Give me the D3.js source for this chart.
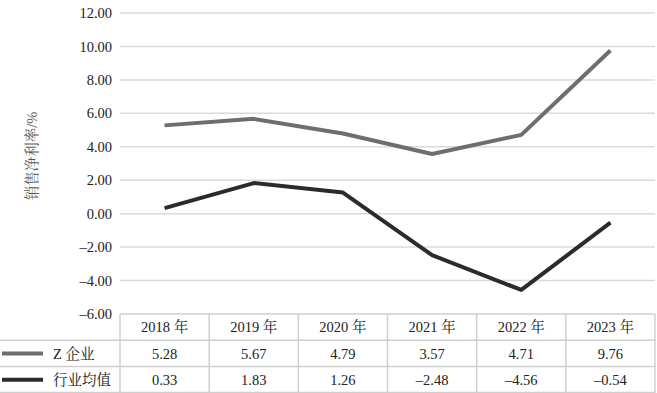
<!DOCTYPE html>
<html>
<head>
<meta charset="utf-8">
<script src="https://cdn.jsdelivr.net/npm/d3@7"></script>
<style>
  html, body { margin: 0; padding: 0; background: #fff; }
  svg { display: block; }
  .serif { font-family: 'Liberation Serif', 'Noto Serif CJK SC', serif; }
</style>
</head>
<body>
<svg id="chart" width="657" height="393"></svg>
<script>
const years = ['2018 年', '2019 年', '2020 年', '2021 年', '2022 年', '2023 年'];
const seriesNames = ['Z 企业', '行业均值'];
const zValues = [5.28, 5.67, 4.79, 3.57, 4.71, 9.76];
const industryValues = [0.33, 1.83, 1.26, -2.48, -4.56, -0.54];
const yTicks = [-6, -4, -2, 0, 2, 4, 6, 8, 10, 12];
const yLabel = '销售净利率/%';

const colors = ['#6e6e6e', '#2b2b2b'];
const series = [zValues, industryValues];

const W = 657, H = 393;
const plot = { left: 120, right: 655, top: 13, bottom: 314 };
const rowH = 26.3;

const svg = d3.select('#chart');

const x = d3.scaleBand().domain(years).range([plot.left, plot.right]);
const y = d3.scaleLinear().domain([-6, 12]).range([plot.bottom, plot.top]);

const fmt = (v) => (v < 0 ? '\u2013' + Math.abs(v).toFixed(2) : v.toFixed(2));

// gridlines
svg.append('g')
  .selectAll('line')
  .data(yTicks.filter((t) => t !== -6))
  .join('line')
  .attr('x1', plot.left)
  .attr('x2', plot.right)
  .attr('y1', (d) => y(d))
  .attr('y2', (d) => y(d))
  .attr('stroke', '#dadada')
  .attr('stroke-width', 1.5);

// y axis labels
const yAxis = d3.axisLeft(y).tickValues(yTicks).tickFormat(fmt).tickSize(0).tickPadding(8);
const yG = svg.append('g').attr('transform', `translate(${plot.left},0)`).call(yAxis);
yG.attr('font-family', null).attr('font-size', null);
yG.select('.domain').remove();
yG.selectAll('text')
  .attr('class', 'serif')
  .style('font-size', '14.5px')
  .attr('fill', '#222');

// y label
svg.append('text')
  .attr('class', 'serif')
  .attr('transform', 'translate(37,156) rotate(-90)')
  .attr('text-anchor', 'middle')
  .style('font-size', '14.5px')
  .attr('fill', '#555')
  .text(yLabel);

// lines
const line = d3.line()
  .x((d, i) => x(years[i]) + x.bandwidth() / 2)
  .y((d) => y(d));

svg.append('g')
  .selectAll('path')
  .data(series)
  .join('path')
  .attr('d', (d) => line(d))
  .attr('fill', 'none')
  .attr('stroke', (d, i) => colors[i])
  .attr('stroke-width', 4)
  .attr('stroke-linejoin', 'round');

// table
const table = svg.append('g');
const tableTop = plot.bottom;
const borderColor = '#cfcfcf';

const hLines = [
  { y: tableTop, x1: plot.left },
  { y: tableTop + rowH, x1: 0 },
  { y: tableTop + rowH * 2, x1: 0 },
  { y: H - 0.5, x1: 0 }
];
table.selectAll('line.h')
  .data(hLines)
  .join('line')
  .attr('class', 'h')
  .attr('x1', (d) => d.x1)
  .attr('x2', plot.right)
  .attr('y1', (d) => d.y)
  .attr('y2', (d) => d.y)
  .attr('stroke', borderColor)
  .attr('stroke-width', 1.5);

const vPositions = [plot.left, ...years.map((yr) => x(yr) + x.bandwidth())];
table.selectAll('line.v')
  .data(vPositions)
  .join('line')
  .attr('class', 'v')
  .attr('x1', (d) => d)
  .attr('x2', (d) => d)
  .attr('y1', tableTop)
  .attr('y2', H)
  .attr('stroke', borderColor)
  .attr('stroke-width', 1.5);

// header row
table.append('g')
  .selectAll('text')
  .data(years)
  .join('text')
  .attr('class', 'serif')
  .attr('x', (d) => x(d) + x.bandwidth() / 2)
  .attr('y', tableTop + rowH / 2)
  .attr('dy', '0.35em')
  .attr('text-anchor', 'middle')
  .style('font-size', '14.5px')
  .attr('fill', '#222')
  .text((d) => d);

series.forEach((vals, si) => {
  const rowY = tableTop + rowH * (si + 1) + rowH / 2;
  table.append('line')
    .attr('x1', 2)
    .attr('x2', 43)
    .attr('y1', rowY)
    .attr('y2', rowY)
    .attr('stroke', colors[si])
    .attr('stroke-width', 4);
  table.append('text')
    .attr('class', 'serif')
    .attr('x', 53)
    .attr('y', rowY)
    .attr('dy', '0.35em')
    .style('font-size', '14.5px')
    .attr('fill', '#222')
    .text(seriesNames[si]);
  table.append('g')
    .selectAll('text')
    .data(vals)
    .join('text')
    .attr('class', 'serif')
    .attr('x', (d, i) => x(years[i]) + x.bandwidth() / 2)
    .attr('y', rowY)
    .attr('dy', '0.35em')
    .attr('text-anchor', 'middle')
    .style('font-size', '14.5px')
    .attr('fill', '#222')
    .text((d) => fmt(d));
});
</script>
</body>
</html>
